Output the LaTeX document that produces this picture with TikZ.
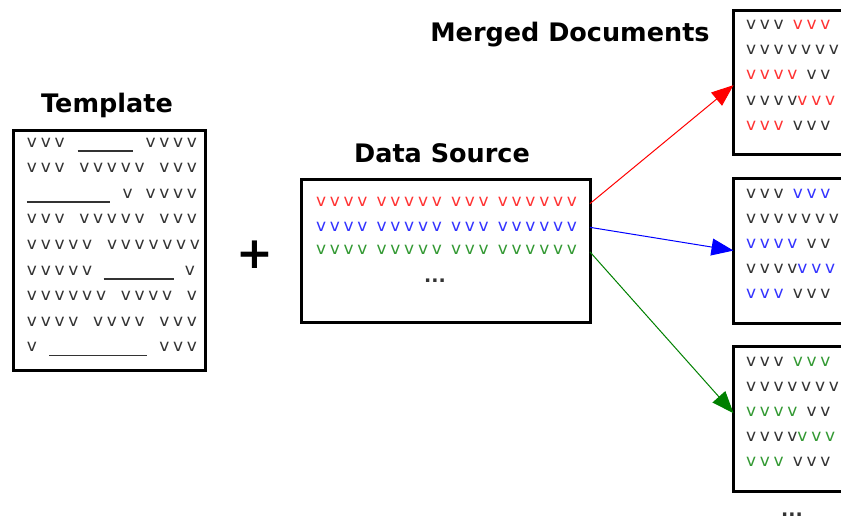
\documentclass[tikz,border=0pt]{standalone}
\usepackage{fontspec}
\setmainfont{DejaVu Sans}
\newfontfamily\vfont[LetterSpace=22]{DejaVu Sans}
\usetikzlibrary{arrows.meta,calc}

\definecolor{ink}{HTML}{333333}
\definecolor{vred}{HTML}{FF3333}
\definecolor{vblue}{HTML}{3333FF}
\definecolor{vgreen}{HTML}{339933}
\definecolor{agreen}{HTML}{008000}

% filler text and blanks
\newcommand\vtxt{\vfont\fontsize{17}{17}\selectfont}
\newcommand\blankline[1]{\rule[-4.5pt]{#1}{1.4pt}}

\tikzset{
  docbox/.style={draw=black, line width=3pt, fill=white, rectangle,
    inner sep=0pt, outer sep=0pt, anchor=north west},
  vrow/.style={anchor=base west, inner sep=0pt, outer sep=0pt, text=ink, font=\vtxt},
  heading/.style={inner sep=0pt, font=\fontsize{25.5}{25.5}\selectfont\bfseries},
  dots/.style={inner sep=0pt, text=ink, font=\fontsize{19}{19}\selectfont\bfseries},
  flow/.style={line width=1pt, -{Triangle[length=22pt,width=17pt]}},
}

% five rows of a merged document, #2 marks the inserted fields
\newcommand\docrows[2]{%
  \node[vrow] (#1-1) at ($(#1.north west)+(12.5,19.5)$) {vvv \textcolor{#2}{vvv}};
  \node[vrow] (#1-2) at ($(#1.north west)+(12.5,44.7)$) {vvvvvvvv};
  \node[vrow] (#1-3) at ($(#1.north west)+(12.5,69.9)$) {\textcolor{#2}{vvvv} vv};
  \node[vrow] (#1-4) at ($(#1.north west)+(12.5,95.1)$) {vvvv\textcolor{#2}{vvv}};
  \node[vrow] (#1-5) at ($(#1.north west)+(12.5,120.3)$) {\textcolor{#2}{vvv} vvv};
}

\begin{document}
\begin{tikzpicture}[x=1pt, y=-1pt]
\useasboundingbox (0,0) rectangle (841,523);
\clip (0,0) rectangle (841,523);

% template
\node[heading] (tpltitle) at (107,105) {Template};
\node[docbox, minimum width=192pt, minimum height=240pt] (tpl) at (13.5,130) {};
\node[vrow] (t1) at (27,147.0) {\hbox to 170pt{vvv\hfill\blankline{55pt}\hfill vvvv}};
\node[vrow] (t2) at (27,172.6) {\hbox to 170pt{vvv\hfill vvvvv\hfill vvv}};
\node[vrow] (t3) at (27,198.2) {\hbox to 170pt{\blankline{83pt}\hfill v\hfill vvvv}};
\node[vrow] (t4) at (27,223.8) {\hbox to 170pt{vvv\hfill vvvvv\hfill vvv}};
\node[vrow] (t5) at (27,249.4) {\hbox to 173pt{vvvvv\hfill vvvvvvv}};
\node[vrow] (t6) at (27,275.0) {\hbox to 168pt{vvvvv\hfill\blankline{70pt}\hfill v}};
\node[vrow] (t7) at (27,300.6) {\hbox to 170pt{vvvvvv\hfill vvvv\hfill v}};
\node[vrow] (t8) at (27,326.2) {\hbox to 170pt{vvvv\hfill vvvv\hfill vvv}};
\node[vrow] (t9) at (27,351.8) {\hbox to 170pt{v\hfill\blankline{98pt}\hfill vvv}};

% plus sign
\node[inner sep=0pt, font=\fontsize{44}{44}\selectfont\bfseries] (plus) at (255,255) {+};

% data source
\node[heading] (dstitle) at (442,153) {Data Source};
\node[docbox, minimum width=288.5pt, minimum height=143pt] (ds) at (301.5,179) {};
\node[vrow, text=vred]   (d1) at (316,206) {vvvv vvvvv vvv vvvvvv};
\node[vrow, text=vblue]  (d2) at (316,231) {vvvv vvvvv vvv vvvvvv};
\node[vrow, text=vgreen] (d3) at (316,254) {vvvv vvvvv vvv vvvvvv};
\node[dots] (d4) at (435,281) {...};

% merged documents
\node[heading] (mtitle) at (570,35) {Merged Documents};
\node[docbox, minimum width=130pt, minimum height=144.5pt] (m1) at (733.5,10) {};
\node[docbox, minimum width=130pt, minimum height=145pt] (m2) at (733.5,178.5) {};
\node[docbox, minimum width=130pt, minimum height=145pt] (m3) at (733.5,346.5) {};
\docrows{m1}{vred}
\docrows{m2}{vblue}
\docrows{m3}{vgreen}
\node[dots] (mdots) at (792,515) {...};

% connectors
\draw[flow, red]    ($(ds.north east)!0.172!(ds.south east)$) -- ($(m1.north west)!0.52!(m1.south west)$);
\draw[flow, blue]   ($(ds.north east)!0.338!(ds.south east)$) -- ($(m2.north west)!0.497!(m2.south west)$);
\draw[flow, agreen] ($(ds.north east)!0.51!(ds.south east)$)  -- ($(m3.north west)!0.46!(m3.south west)$);
\end{tikzpicture}
\end{document}
